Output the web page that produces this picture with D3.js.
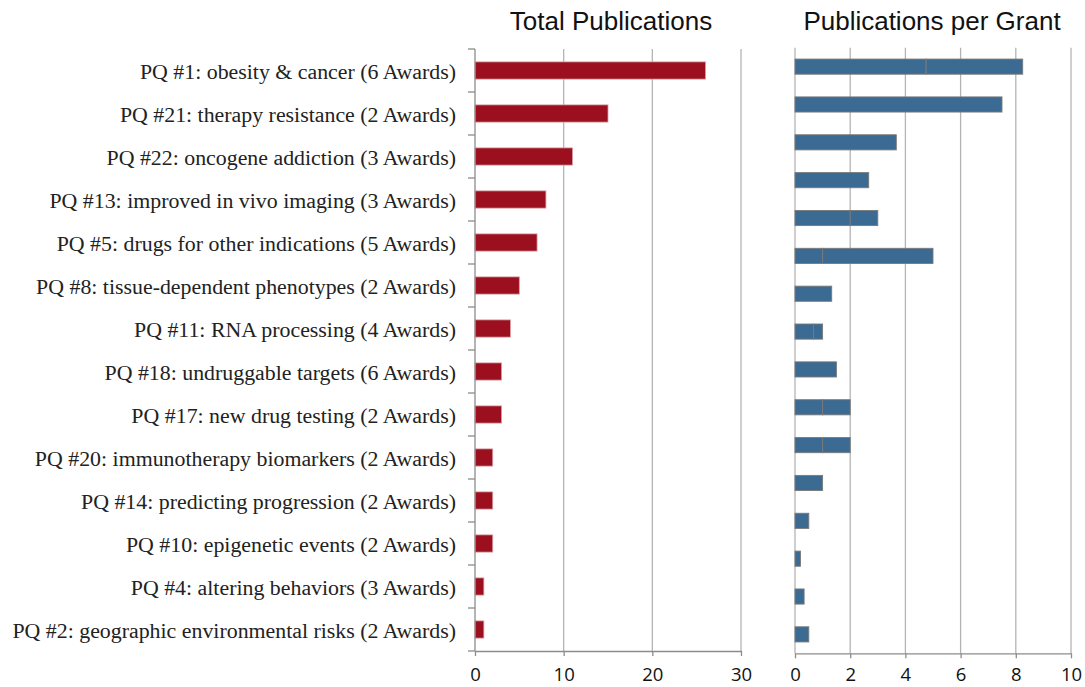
<!DOCTYPE html>
<html><head><meta charset="utf-8">
<script src="https://cdn.jsdelivr.net/npm/d3@7"></script>
<style>body{margin:0;background:#fff;} svg{display:block;}</style>
</head><body>
<svg id="c" width="1085" height="687"></svg>
<script>
const categories = [
  "PQ #1: obesity & cancer (6 Awards)",
  "PQ #21: therapy resistance (2 Awards)",
  "PQ #22: oncogene addiction (3 Awards)",
  "PQ #13: improved in vivo imaging (3 Awards)",
  "PQ #5: drugs for other indications (5 Awards)",
  "PQ #8: tissue-dependent phenotypes (2 Awards)",
  "PQ #11: RNA processing (4 Awards)",
  "PQ #18: undruggable targets (6 Awards)",
  "PQ #17: new drug testing (2 Awards)",
  "PQ #20: immunotherapy biomarkers (2 Awards)",
  "PQ #14: predicting progression (2 Awards)",
  "PQ #10: epigenetic events (2 Awards)",
  "PQ #4: altering behaviors (3 Awards)",
  "PQ #2: geographic environmental risks (2 Awards)"
];
const totalPublications = [26, 15, 11, 8, 7, 5, 4, 3, 3, 2, 2, 2, 1, 1];
const totalTicks = [0, 10, 20, 30];

const grantRows = d3.range(1, 17).map(String);
const perGrantSeg1 = [4.75, 7.5, 3.67, 2.67, 2, 1, 1.33, 0.67, 1.5, 1, 1, 1, 0.5, 0.2, 0.33, 0.5];
const perGrantSeg2 = [3.5, 0, 0, 0, 1, 4, 0, 0.33, 0, 1, 1, 0, 0, 0, 0, 0];
const perGrantTicks = [0, 2, 4, 6, 8, 10];

const titles = ["Total Publications", "Publications per Grant"];

const svg = d3.select("#c");
const gridColor = "#b4b4b4", axisColor = "#8c8c8c";

// ---------- Left panel ----------
const xL = d3.scaleLinear().domain([0, 30]).range([475, 741]);
const yL = d3.scaleBand().domain(categories).range([49, 651]).paddingInner(0.6).paddingOuter(0.3);
const bandL = (651 - 49) / categories.length;

const gL = svg.append("g");
gL.selectAll("line.grid").data(totalTicks.slice(1)).join("line")
  .attr("x1", d => xL(d)).attr("x2", d => xL(d)).attr("y1", 49).attr("y2", 651)
  .attr("stroke", gridColor).attr("stroke-width", 1.3);

gL.selectAll("rect").data(totalPublications).join("rect")
  .attr("x", xL(0)).attr("y", (d, i) => yL(categories[i]))
  .attr("width", d => xL(d) - xL(0)).attr("height", yL.bandwidth())
  .attr("fill", "#9b0f1e").attr("stroke", "#d8a0a6").attr("stroke-width", 0.8);

gL.append("line").attr("x1", xL(0)).attr("x2", xL(0)).attr("y1", 49).attr("y2", 651)
  .attr("stroke", axisColor).attr("stroke-width", 1.3);
gL.selectAll("line.yt").data(d3.range(categories.length + 1)).join("line")
  .attr("x1", xL(0) - 7).attr("x2", xL(0)).attr("y1", i => 49 + i * bandL).attr("y2", i => 49 + i * bandL)
  .attr("stroke", axisColor).attr("stroke-width", 1.3);
const axL = gL.append("g").attr("transform", "translate(0,651)")
  .call(d3.axisBottom(xL).tickValues(totalTicks).tickSize(5).tickSizeOuter(0).tickPadding(12));
axL.select(".domain").attr("stroke", axisColor).attr("stroke-width", 1.3);
axL.selectAll(".tick line").attr("stroke", axisColor).attr("stroke-width", 1.3);
axL.selectAll("text").attr("font-family", "'Open Sans', sans-serif").attr("font-size", 18.5).attr("fill", "#111");

const labels = gL.selectAll("text.cat").data(categories).join("text")
  .attr("class", "cat")
  .attr("x", 456).attr("y", d => yL(d) + yL.bandwidth() / 2 + 1)
  .attr("text-anchor", "end").attr("dominant-baseline", "central")
  .attr("font-family", "'Liberation Serif', 'DejaVu Serif', serif").attr("font-size", 19).attr("fill", "#222")
  .text(d => d);
const maxW = d3.max(labels.nodes(), n => n.getComputedTextLength());
labels.attr("font-size", 19 * 444 / maxW);

// ---------- Right panel ----------
const xR = d3.scaleLinear().domain([0, 10]).range([795, 1071]);
const yR = d3.scaleBand().domain(grantRows).range([47.7, 653.3]).paddingInner(0.6).paddingOuter(0.3);

const gR = svg.append("g");
gR.selectAll("line.grid").data(perGrantTicks).join("line")
  .attr("x1", d => xR(d)).attr("x2", d => xR(d)).attr("y1", 47.7).attr("y2", 653.3)
  .attr("stroke", gridColor).attr("stroke-width", 1.3);

const stackData = grantRows.map((r, i) => ({row: r, a: perGrantSeg1[i], b: perGrantSeg2[i]}));
const series = d3.stack().keys(["a", "b"])(stackData);
gR.selectAll("g.s").data(series).join("g").attr("class", "s")
  .selectAll("rect").data(d => d.filter(p => p[1] > p[0])).join("rect")
  .attr("x", d => xR(d[0])).attr("y", d => yR(d.data.row))
  .attr("width", d => xR(d[1]) - xR(d[0])).attr("height", yR.bandwidth())
  .attr("fill", "#3b6a92").attr("stroke", "#7a7a7a").attr("stroke-width", 0.9);

const axR = gR.append("g").attr("transform", "translate(0,653.3)")
  .call(d3.axisBottom(xR).tickValues(perGrantTicks).tickSize(5).tickSizeOuter(0).tickPadding(10));
axR.select(".domain").attr("stroke", axisColor).attr("stroke-width", 1.3);
axR.selectAll(".tick line").attr("stroke", axisColor).attr("stroke-width", 1.3);
axR.selectAll("text").attr("font-family", "'Open Sans', sans-serif").attr("font-size", 18.5).attr("fill", "#111");

// ---------- Titles ----------
svg.selectAll("text.title").data(titles).join("text")
  .attr("class", "title")
  .attr("x", (d, i) => i === 0 ? 611 : 932)
  .attr("y", 30)
  .attr("text-anchor", "middle")
  .attr("font-family", "'Liberation Sans', Arial, sans-serif").attr("font-size", 26).attr("fill", "#111")
  .text(d => d);
</script>
</body></html>
